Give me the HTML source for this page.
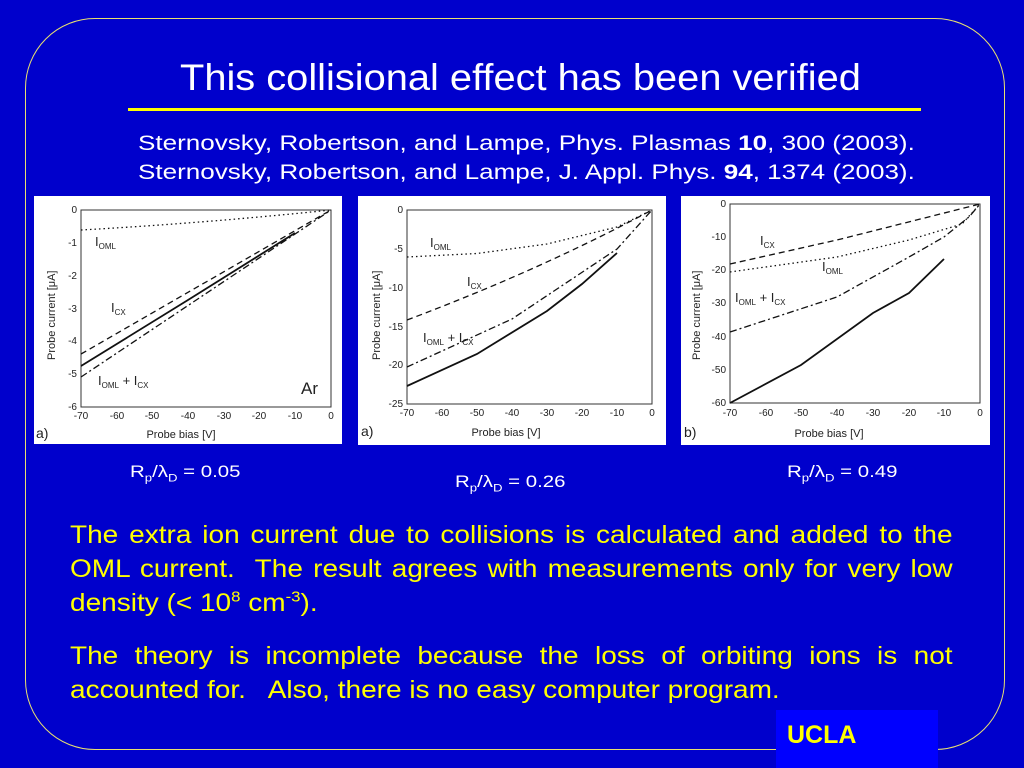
<!DOCTYPE html>
<html><head><style>
body{margin:0;width:1024px;height:768px;background:#0000cc;position:relative;overflow:hidden;font-family:"Liberation Sans",sans-serif}
.a{position:absolute;white-space:nowrap;transform-origin:0 0}
.w{color:#fff}
.y{color:#ffff00}
.p{position:absolute;left:70px;width:788px;color:#ffff00;font-size:25px;line-height:34px;transform:scaleX(1.12);transform-origin:0 0}
.j{display:block;text-align:justify;text-align-last:justify;white-space:nowrap}
.l{display:block;white-space:nowrap}
</style></head><body>
<div style="position:absolute;left:25px;top:18px;width:978px;height:730px;border:1.5px solid #e8e070;border-radius:70px"></div>
<div class="a w" style="left:180px;top:57px;font-size:37px;transform:scaleX(1.076)">This collisional effect has been verified</div>
<div style="position:absolute;left:128px;top:108px;width:793px;height:3px;background:#ffff00"></div>
<div class="a w" style="left:138px;top:129px;font-size:21px;line-height:29px;transform:scaleX(1.24)">Sternovsky, Robertson, and Lampe, Phys. Plasmas <b>10</b>, 300 (2003).<br>Sternovsky, Robertson, and Lampe, J. Appl. Phys. <b>94</b>, 1374 (2003).</div>
<svg width="1024" height="768" style="position:absolute;left:0;top:0" font-family="Liberation Sans, sans-serif" font-size="10">
<g fill="#fff"><rect x="34" y="196" width="308" height="248"/><rect x="358" y="196" width="308" height="249"/><rect x="681" y="196" width="309" height="249"/></g>
<g fill="none" stroke="#333" stroke-width="1">
<rect x="81" y="210" width="250" height="197"/><rect x="407" y="210" width="245" height="194"/><rect x="730" y="204" width="250" height="199"/>
</g>
<g fill="none" stroke="#111" stroke-width="1.3">
<path d="M81,230 Q206,223 331,210" stroke-dasharray="1.5,3"/>
<path d="M81,354 L331,210" stroke-dasharray="6,4"/>
<path d="M81,377 L331,210" stroke-dasharray="7,3,2,3"/>
<path d="M81,366 L188,300 L295,233" stroke-width="1.8"/>
<path d="M407,257 L477,253.5 L547,244 L617,227 L652,210" stroke-dasharray="1.5,3"/>
<path d="M407,320 Q540,270 652,210" stroke-dasharray="6,4"/>
<path d="M407,367 L512,319 L617,249 L652,210" stroke-dasharray="7,3,2,3"/>
<path d="M407,386 L477,354 L547,311 L582,284 L617,253" stroke-width="1.8"/>
<path d="M730,264 L837,240 L980,204" stroke-dasharray="6,4"/>
<path d="M730,272 L837,257 L909,240 L962,224 L980,204" stroke-dasharray="1.5,3"/>
<path d="M730,332 L837,297 L909,257 L944,237 L969,217 L980,204" stroke-dasharray="7,3,2,3"/>
<path d="M730,403 L801,365 L873,313 L909,293 L944,259" stroke-width="1.8"/>
</g>
<g fill="#222" text-anchor="middle">
<text x="81" y="419">-70</text><text x="117" y="419">-60</text><text x="152" y="419">-50</text><text x="188" y="419">-40</text><text x="224" y="419">-30</text><text x="259" y="419">-20</text><text x="295" y="419">-10</text><text x="331" y="419">0</text>
<text x="181" y="438" font-size="11">Probe bias [V]</text>
<text x="407" y="416">-70</text><text x="442" y="416">-60</text><text x="477" y="416">-50</text><text x="512" y="416">-40</text><text x="547" y="416">-30</text><text x="582" y="416">-20</text><text x="617" y="416">-10</text><text x="652" y="416">0</text>
<text x="506" y="436" font-size="11">Probe bias [V]</text>
<text x="730" y="416">-70</text><text x="766" y="416">-60</text><text x="801" y="416">-50</text><text x="837" y="416">-40</text><text x="873" y="416">-30</text><text x="909" y="416">-20</text><text x="944" y="416">-10</text><text x="980" y="416">0</text>
<text x="829" y="437" font-size="11">Probe bias [V]</text>
</g>
<g fill="#222" text-anchor="end">
<text x="77" y="213">0</text><text x="77" y="246">-1</text><text x="77" y="279">-2</text><text x="77" y="312">-3</text><text x="77" y="344">-4</text><text x="77" y="377">-5</text><text x="77" y="410">-6</text>
<text x="403" y="213">0</text><text x="403" y="252">-5</text><text x="403" y="291">-10</text><text x="403" y="330">-15</text><text x="403" y="368">-20</text><text x="403" y="407">-25</text>
<text x="726" y="207">0</text><text x="726" y="240">-10</text><text x="726" y="273">-20</text><text x="726" y="306">-30</text><text x="726" y="340">-40</text><text x="726" y="373">-50</text><text x="726" y="406">-60</text>
</g>
<g fill="#222" font-size="11">
<text transform="translate(55,360) rotate(-90)">Probe current [μA]</text>
<text transform="translate(380,360) rotate(-90)">Probe current [μA]</text>
<text transform="translate(700,360) rotate(-90)">Probe current [μA]</text>
<text x="36" y="438" font-size="14">a)</text><text x="361" y="436" font-size="14">a)</text><text x="684" y="437" font-size="14">b)</text>
<text x="301" y="394" font-size="17">Ar</text>
<text x="95" y="246" font-size="13">I<tspan font-size="8" dy="3">OML</tspan></text>
<text x="111" y="312" font-size="13">I<tspan font-size="8" dy="3">CX</tspan></text>
<text x="98" y="385" font-size="13">I<tspan font-size="8" dy="3">OML</tspan><tspan dy="-3"> + I</tspan><tspan font-size="8" dy="3">CX</tspan></text>
<text x="430" y="247" font-size="13">I<tspan font-size="8" dy="3">OML</tspan></text>
<text x="467" y="286" font-size="13">I<tspan font-size="8" dy="3">CX</tspan></text>
<text x="423" y="342" font-size="13">I<tspan font-size="8" dy="3">OML</tspan><tspan dy="-3"> + I</tspan><tspan font-size="8" dy="3">CX</tspan></text>
<text x="760" y="245" font-size="13">I<tspan font-size="8" dy="3">CX</tspan></text>
<text x="822" y="271" font-size="13">I<tspan font-size="8" dy="3">OML</tspan></text>
<text x="735" y="302" font-size="13">I<tspan font-size="8" dy="3">OML</tspan><tspan dy="-3"> + I</tspan><tspan font-size="8" dy="3">CX</tspan></text>
</g>
</svg>
<div class="a w" style="left:130px;top:462px;font-size:17px;transform:scaleX(1.2)">R<sub style="font-size:11px">p</sub>/λ<sub style="font-size:11px">D</sub> = 0.05</div>
<div class="a w" style="left:455px;top:472px;font-size:17px;transform:scaleX(1.2)">R<sub style="font-size:11px">p</sub>/λ<sub style="font-size:11px">D</sub> = 0.26</div>
<div class="a w" style="left:787px;top:462px;font-size:17px;transform:scaleX(1.2)">R<sub style="font-size:11px">p</sub>/λ<sub style="font-size:11px">D</sub> = 0.49</div>
<div class="p" style="top:518px"><span class="j">The extra ion current due to collisions is calculated and added to the</span><span class="j">OML current.&nbsp; The result agrees with measurements only for very low</span><span class="l">density (&lt; 10<sup style="font-size:15px;line-height:0">8</sup> cm<sup style="font-size:15px;line-height:0">-3</sup>).</span></div>
<div class="p" style="top:639px"><span class="j">The theory is incomplete because the loss of orbiting ions is not</span><span class="l">accounted for.&nbsp;&nbsp; Also, there is no easy computer program.</span></div>
<div style="position:absolute;left:776px;top:710px;width:162px;height:58px;background:#0000ff"></div>
<div class="a y" style="left:787px;top:721px;font-size:25px;font-weight:bold">UCLA</div>
</body></html>
